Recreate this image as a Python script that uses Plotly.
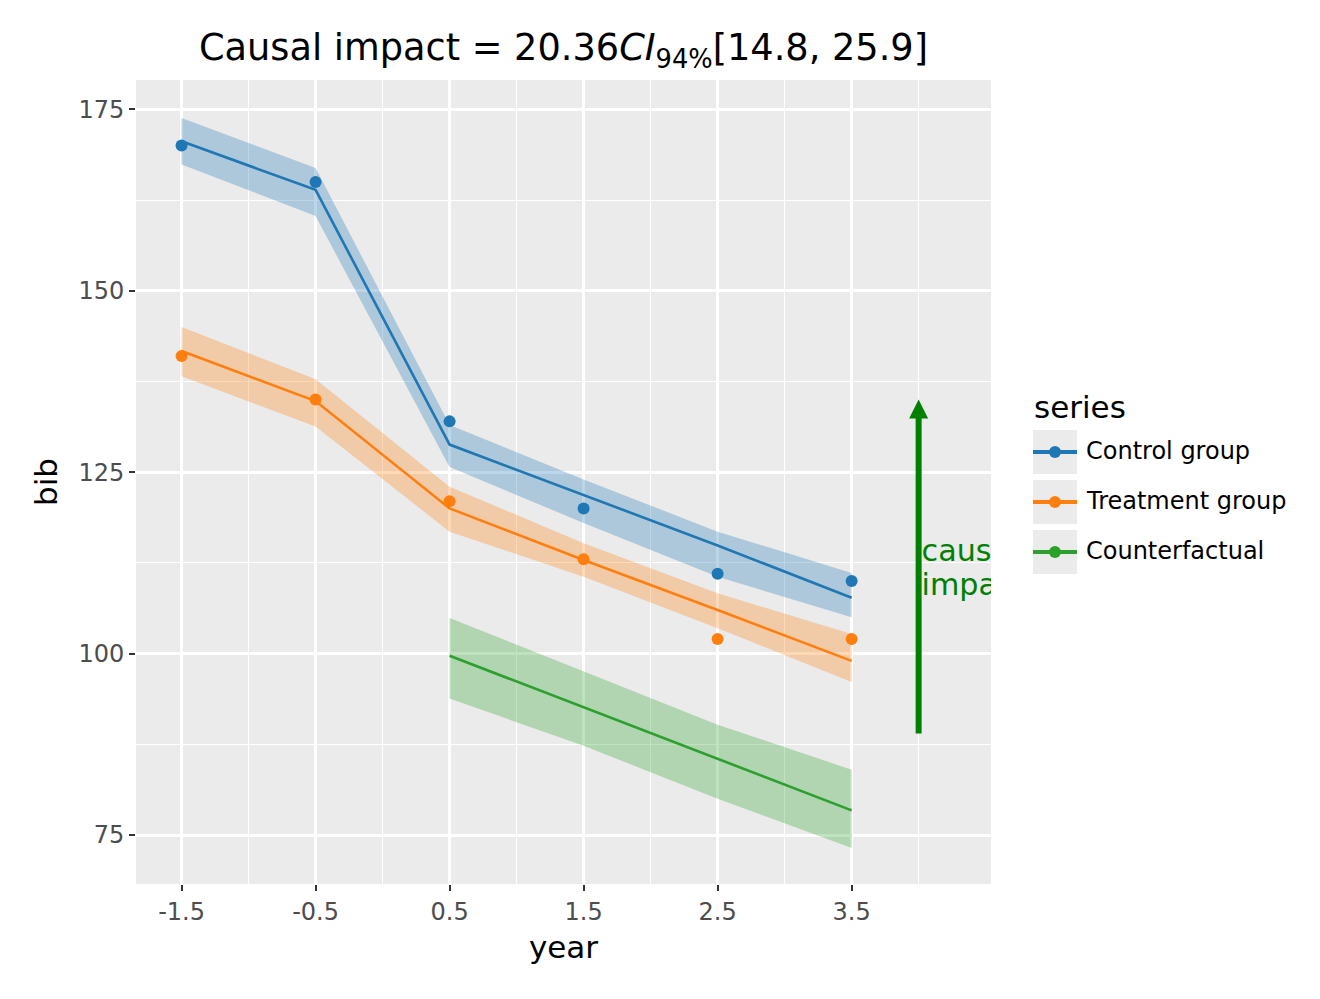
import plotly.graph_objects as go

# ---------------- data ----------------
years = [-1.5, -0.5, 0.5, 1.5, 2.5, 3.5]
control_obs = [170, 165, 132, 120, 111, 110]
treatment_obs = [141, 135, 121, 113, 102, 102]

control_fit = [170.6, 163.9, 128.8, 121.8, 114.9, 107.7]
control_lo = [167.4, 160.3, 125.7, 118.0, 110.6, 105.0]
control_hi = [173.8, 166.9, 131.5, 124.0, 116.8, 111.1]

treatment_fit = [141.7, 134.8, 120.0, 112.9, 106.0, 99.0]
treatment_lo = [138.2, 131.3, 116.8, 110.6, 103.5, 96.1]
treatment_hi = [145.0, 137.8, 123.0, 115.2, 108.3, 102.7]

cf_years = [0.5, 1.5, 2.5, 3.5]
cf_fit = [99.7, 92.6, 85.6, 78.4]
cf_lo = [93.8, 87.3, 80.0, 73.2]
cf_hi = [104.9, 97.5, 90.2, 84.0]

arrow_x = 4.0
arrow_start = 89.0
arrow_end = 135.0
label_lines = ["causal", "impact"]
label_ys = [113.8, 109.1]

series_names = ["Control group", "Treatment group", "Counterfactual"]
series_colors = ["#1f77b4", "#ff7f0e", "#2ca02c"]
band_colors = ["rgba(31,119,180,0.3)", "rgba(255,127,14,0.3)", "rgba(44,160,44,0.3)"]

x_ticks = [-1.5, -0.5, 0.5, 1.5, 2.5, 3.5]
x_minor = [-1, 0, 1, 2, 3, 4]
y_ticks = [75, 100, 125, 150, 175]
y_minor = [87.5, 112.5, 137.5, 162.5]

FONT = "DejaVu Sans"
W, H = 1320, 999
L, R, T, B = 136, 991, 80, 884
LABEL_DX = 0.022  # small horizontal nudge of the label, in axis units

fig = go.Figure()

def band(xs, lo, hi, color):
    fig.add_trace(go.Scatter(
        x=list(xs) + list(xs)[::-1], y=list(hi) + list(lo)[::-1],
        fill="toself", fillcolor=color, line=dict(width=0),
        mode="lines", hoverinfo="skip", showlegend=False))

band(years, control_lo, control_hi, band_colors[0])
band(years, treatment_lo, treatment_hi, band_colors[1])
band(cf_years, cf_lo, cf_hi, band_colors[2])

fig.add_trace(go.Scatter(x=years, y=control_fit, mode="lines",
                         line=dict(color=series_colors[0], width=2.6),
                         name=series_names[0], showlegend=False))
fig.add_trace(go.Scatter(x=years, y=treatment_fit, mode="lines",
                         line=dict(color=series_colors[1], width=2.6),
                         name=series_names[1], showlegend=False))
fig.add_trace(go.Scatter(x=cf_years, y=cf_fit, mode="lines",
                         line=dict(color=series_colors[2], width=2.6),
                         name=series_names[2], showlegend=False))

fig.add_trace(go.Scatter(x=years, y=control_obs, mode="markers",
                         marker=dict(color=series_colors[0], size=12),
                         showlegend=False))
fig.add_trace(go.Scatter(x=years, y=treatment_obs, mode="markers",
                         marker=dict(color=series_colors[1], size=12),
                         showlegend=False))

# arrow: shaft + head
fig.add_trace(go.Scatter(x=[arrow_x, arrow_x], y=[arrow_start, arrow_end - 1.5],
                         mode="lines", line=dict(color="green", width=6),
                         showlegend=False, hoverinfo="skip"))
fig.add_trace(go.Scatter(x=[arrow_x], y=[arrow_end], mode="markers",
                         marker=dict(symbol="arrow-up", size=19, color="green",
                                     line=dict(width=0)),
                         showlegend=False, hoverinfo="skip"))

# causal impact label (clipped by the panel)
fig.add_trace(go.Scatter(x=[arrow_x + LABEL_DX] * len(label_lines), y=label_ys,
                         mode="text", text=label_lines, textposition="middle right",
                         textfont=dict(family=FONT, size=30.2, color="green"),
                         cliponaxis=True, showlegend=False, hoverinfo="skip"))

# ---------------- manual legend ----------------
def px2x(p):
    return (p - L) / (R - L)

def py2y(p):
    return (B - p) / (B - T)

fig.add_annotation(x=px2x(1032), y=py2y(407), xref="paper", yref="paper",
                   text="series", showarrow=False, xanchor="left", yanchor="middle",
                   font=dict(family=FONT, size=31, color="black"))
for i, (nm, col) in enumerate(zip(series_names, series_colors)):
    top = 430 + 50 * i
    cy = top + 22
    fig.add_shape(type="rect", xref="paper", yref="paper",
                  x0=px2x(1033), x1=px2x(1077), y0=py2y(top), y1=py2y(top + 44),
                  fillcolor="#EBEBEB", line=dict(width=0), layer="above")
    fig.add_shape(type="line", xref="paper", yref="paper",
                  x0=px2x(1033), x1=px2x(1077), y0=py2y(cy), y1=py2y(cy),
                  line=dict(color=col, width=4), layer="above")
    fig.add_shape(type="circle", xref="paper", yref="paper",
                  x0=px2x(1049), x1=px2x(1061), y0=py2y(cy - 6), y1=py2y(cy + 6),
                  fillcolor=col, line=dict(width=0), layer="above")
    fig.add_annotation(x=px2x(1084), y=py2y(cy - 1), xref="paper", yref="paper",
                       text=nm, showarrow=False, xanchor="left", yanchor="middle",
                       font=dict(family=FONT, size=24, color="black"))

axis_common = dict(
    showgrid=True, gridcolor="white", gridwidth=2.6,
    zeroline=False, showline=False,
    ticks="outside", ticklen=6, tickwidth=2, tickcolor="#333333",
    tickfont=dict(family=FONT, size=24, color="#4D4D4D"),
)

fig.update_layout(
    width=W, height=H,
    margin=dict(l=L, r=W - R, t=T, b=H - B, pad=0),
    paper_bgcolor="white", plot_bgcolor="#EBEBEB",
    showlegend=False,
    font=dict(family=FONT),
    title=dict(text="Causal impact = 20.36<i>CI</i><sub>94%</sub>[14.8, 25.9]",
               x=(L + R) / 2 / W, xanchor="center", xref="container",
               y=1 - 47 / H, yanchor="middle", yref="container",
               font=dict(family=FONT, size=36.7, color="black")),
    xaxis=dict(range=[-1.84, 4.54], tickmode="array", tickvals=x_ticks,
               ticktext=[str(v) for v in x_ticks],
               minor=dict(tickvals=x_minor, showgrid=True, gridcolor="white",
                          gridwidth=1.3, ticks=""),
               title=dict(text="year", standoff=11,
                          font=dict(family=FONT, size=31, color="black")),
               **axis_common),
    yaxis=dict(range=[68.25, 179.04], tickmode="array", tickvals=y_ticks,
               ticktext=[str(v) for v in y_ticks],
               minor=dict(tickvals=y_minor, showgrid=True, gridcolor="white",
                          gridwidth=1.3, ticks=""),
               title=dict(text="bib", standoff=11,
                          font=dict(family=FONT, size=31, color="black")),
               **axis_common),
)

fig.write_html("out.html")
